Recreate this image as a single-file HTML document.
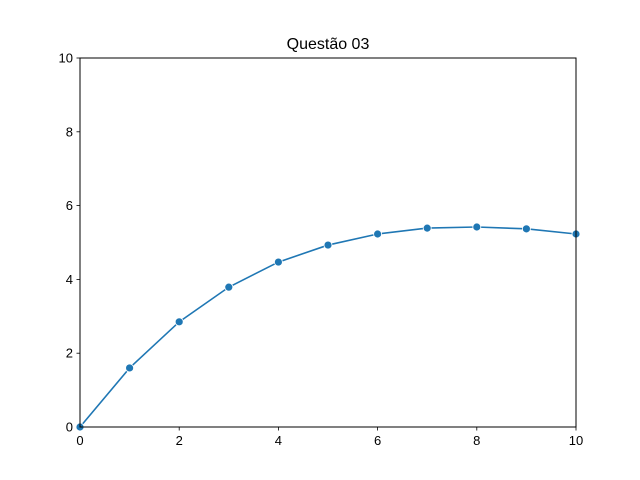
<!DOCTYPE html>
<html><head><meta charset="utf-8"><style>
html,body{margin:0;padding:0;background:#fff;}
svg{display:block;font-family:"Liberation Sans","DejaVu Sans",sans-serif;}
</style></head><body>
<svg id="chart" width="640" height="480">
<rect width="640" height="480" fill="#fff"/>
<text x="328" y="49" font-size="16" text-anchor="middle">Questão 03</text>
<g id="ticks"></g>
<g id="series"></g>
<rect x="80" y="58" width="496" height="369" fill="none" stroke="#000" stroke-width="1"/>
</svg>
<script>
const xValues = [0,1,2,3,4,5,6,7,8,9,10];
const yValues = [0,1.60,2.85,3.79,4.47,4.93,5.23,5.39,5.42,5.37,5.23];
const xTicks = [0,2,4,6,8,10];
const yTicks = [0,2,4,6,8,10];
const L=80,R=576,T=58,B=427;
const sx=v=>L+(v-0)/(10-0)*(R-L);
const sy=v=>B-(v-0)/(10-0)*(B-T);
const NS="http://www.w3.org/2000/svg";
const tg=document.getElementById('ticks');
function mk(tag,attrs,parent){const e=document.createElementNS(NS,tag);for(const k in attrs)e.setAttribute(k,attrs[k]);parent.appendChild(e);return e;}
xTicks.forEach(t=>{
  const l=mk('line',{x1:sx(t),x2:sx(t),y1:B,y2:B+3.5,stroke:'#000','stroke-width':0.8},tg);
  
  
  const tx=mk('text',{x:sx(t),y:B+18,'font-size':13,'text-anchor':'middle'},tg);
  tx.textContent=t;
  
  
});
yTicks.forEach(t=>{
  const l=mk('line',{x1:L-3.5,x2:L,y1:sy(t),y2:sy(t),stroke:'#000','stroke-width':0.8},tg);
  
  
  const tx=mk('text',{x:L-7,y:sy(t)+4.5,'font-size':13,'text-anchor':'end'},tg);
  tx.textContent=t;
  
  
});
const sg=document.getElementById('series');
const pts=xValues.map((x,i)=>sx(x)+','+sy(yValues[i])).join(' ');
const pl=mk('polyline',{points:pts,fill:'none',stroke:'#1f77b4','stroke-width':1.6},sg);


xValues.forEach((x,i)=>{
  const c=mk('circle',{cx:sx(x),cy:sy(yValues[i]),r:4,fill:'#1f77b4',stroke:'#fff','stroke-width':0.8},sg);
  
  
});
</script>
</body></html>
